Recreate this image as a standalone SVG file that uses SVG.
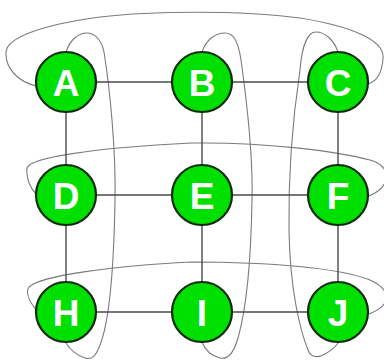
<svg xmlns="http://www.w3.org/2000/svg" width="384" height="361" viewBox="0 0 384 361">
<style>
.edge{stroke:#4a4a4a;stroke-width:1.4;fill:none}
.loop{stroke:#7a7a80;stroke-width:1.1;fill:none}
.node circle{fill:#00e000;stroke:#0a2a0a;stroke-width:2.2}
.node text{fill:#ffffff;font-family:"Liberation Sans",Arial,sans-serif;font-weight:bold;font-size:37px;text-anchor:middle}
</style>
<rect width="384" height="361" fill="#ffffff"/>
<g id="connectors">
<path class="loop" d="M 36,86 C 20,82 5,70 6,52 C 7,38 40,25 100,17 C 150,11 240,10 300,18 C 350,26 385,40 383,58 C 382,75 375,82 368,84"/>
<path class="loop" d="M 36,194 C 30,188 26,178 27,168 C 30,158 90,148 192,143 C 270,142 340,152 370,160 C 392,166 392,186 369,196"/>
<path class="loop" d="M 36,310 C 30,302 25,292 29,287 C 40,276 110,266 192,262 C 270,262 340,268 370,280 C 392,290 392,305 369,314"/>
<path class="loop" d="M 66,52 C 70,40 78,33 87,33 C 96,33 102,42 104,52 C 110,90 116,150 115,200 C 114,260 110,320 100,345 C 96,356 92,360 85,358 C 78,356 70,350 66,343"/>
<path class="loop" d="M 202,52 C 206,40 215,33 225,33 C 233,33 238,40 241,60 C 248,110 253,160 252,200 C 251,260 246,310 238,338 C 234,352 228,360 220,358 C 212,356 205,350 202,342"/>
<path class="loop" d="M 338,52 C 334,40 325,32 316,32 C 308,32 302,45 300,70 C 294,110 288,160 289,230 C 290,290 300,330 308,350 C 311,358 318,358 325,354 C 332,350 336,346 338,343"/>
<line class="edge" x1="66" y1="82" x2="202" y2="82"/>
<line class="edge" x1="202" y1="82" x2="338" y2="82"/>
<line class="edge" x1="66" y1="195" x2="202" y2="195"/>
<line class="edge" x1="202" y1="195" x2="338" y2="195"/>
<line class="edge" x1="66" y1="312" x2="202" y2="312"/>
<line class="edge" x1="202" y1="312" x2="338" y2="312"/>
<line class="edge" x1="66" y1="82" x2="66" y2="195"/>
<line class="edge" x1="66" y1="195" x2="66" y2="312"/>
<line class="edge" x1="202" y1="82" x2="202" y2="195"/>
<line class="edge" x1="202" y1="195" x2="202" y2="312"/>
<line class="edge" x1="338" y1="82" x2="338" y2="195"/>
<line class="edge" x1="338" y1="195" x2="338" y2="312"/>
</g>
<g id="A" class="node"><circle cx="66" cy="82" r="30"/><text x="66" y="96">A</text></g>
<g id="B" class="node"><circle cx="202" cy="82" r="30"/><text x="202" y="96">B</text></g>
<g id="C" class="node"><circle cx="338" cy="82" r="30"/><text x="338" y="96">C</text></g>
<g id="D" class="node"><circle cx="66" cy="195" r="30"/><text x="66" y="209">D</text></g>
<g id="E" class="node"><circle cx="202" cy="195" r="30"/><text x="202" y="209">E</text></g>
<g id="F" class="node"><circle cx="338" cy="195" r="30"/><text x="338" y="209">F</text></g>
<g id="H" class="node"><circle cx="66" cy="312" r="30"/><text x="66" y="326">H</text></g>
<g id="I" class="node"><circle cx="202" cy="312" r="30"/><text x="202" y="326">I</text></g>
<g id="J" class="node"><circle cx="338" cy="312" r="30"/><text x="338" y="326">J</text></g>
</svg>
